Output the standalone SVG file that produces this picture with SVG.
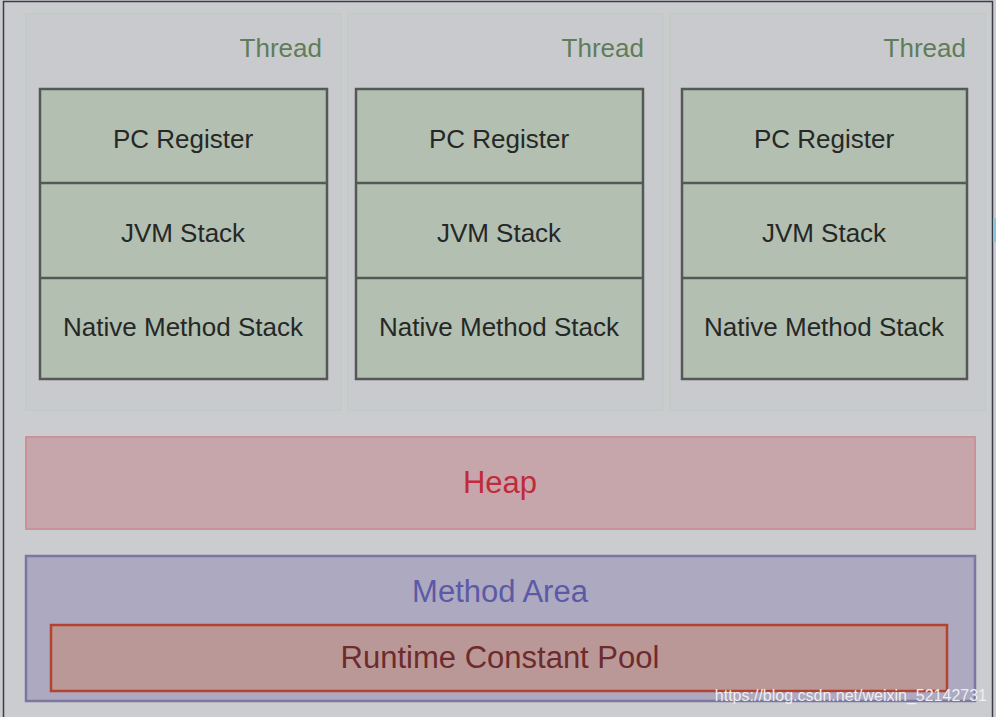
<svg xmlns="http://www.w3.org/2000/svg" width="996" height="717" viewBox="0 0 996 717">
<style>
.thread{fill:#c9cacd;stroke:#c2cbc4;stroke-width:2}
.tlabel{font-family:"Liberation Sans",Arial,sans-serif;font-size:26px;fill:#5e7d58;text-anchor:end}
.stack{fill:#b3bfb1;stroke:#545856;stroke-width:2.5}
.slabel{font-family:"Liberation Sans",Arial,sans-serif;font-size:26px;fill:#252826;text-anchor:middle}
.big{font-family:"Liberation Sans",Arial,sans-serif;font-size:31px;text-anchor:middle}
</style>
<rect x="0" y="0" width="996" height="717" fill="#cbccd0"/>
<rect x="3.5" y="1.5" width="989" height="720" fill="none" stroke="#3a3d48" stroke-width="1.5"/>
<rect x="993" y="218" width="3" height="24" fill="#8cc3dd"/>

<g id="thread1">
<rect class="thread" x="26" y="14" width="315" height="396"/>
<text class="tlabel" x="322" y="57">Thread</text>
<rect class="stack" x="40" y="89" width="287" height="290"/>
<line x1="40" y1="183" x2="327" y2="183" stroke="#545856" stroke-width="2.5"/>
<line x1="40" y1="278" x2="327" y2="278" stroke="#545856" stroke-width="2.5"/>
<text class="slabel" x="183" y="148">PC Register</text>
<text class="slabel" x="183" y="242">JVM Stack</text>
<text class="slabel" x="183" y="336">Native Method Stack</text>
</g>

<g id="thread2">
<rect class="thread" x="348" y="14" width="315" height="396"/>
<text class="tlabel" x="644" y="57">Thread</text>
<rect class="stack" x="356" y="89" width="287" height="290"/>
<line x1="356" y1="183" x2="643" y2="183" stroke="#545856" stroke-width="2.5"/>
<line x1="356" y1="278" x2="643" y2="278" stroke="#545856" stroke-width="2.5"/>
<text class="slabel" x="499" y="148">PC Register</text>
<text class="slabel" x="499" y="242">JVM Stack</text>
<text class="slabel" x="499" y="336">Native Method Stack</text>
</g>

<g id="thread3">
<rect class="thread" x="670" y="14" width="315" height="396"/>
<text class="tlabel" x="966" y="57">Thread</text>
<rect class="stack" x="682" y="89" width="285" height="290"/>
<line x1="682" y1="183" x2="967" y2="183" stroke="#545856" stroke-width="2.5"/>
<line x1="682" y1="278" x2="967" y2="278" stroke="#545856" stroke-width="2.5"/>
<text class="slabel" x="824" y="148">PC Register</text>
<text class="slabel" x="824" y="242">JVM Stack</text>
<text class="slabel" x="824" y="336">Native Method Stack</text>
</g>

<g id="heap">
<rect x="26" y="437" width="949" height="92" fill="#c6a6ab" stroke="#c99399" stroke-width="2"/>
<text class="big" x="500" y="493" fill="#c12a3b">Heap</text>
</g>

<g id="method-area">
<rect x="26" y="556" width="949" height="145" fill="#aca9c0" stroke="#7b77a0" stroke-width="2.5"/>
<text class="big" x="500" y="602" font-size="32" fill="#5c5aa6">Method Area</text>
<g id="runtime-constant-pool">
<rect x="51" y="625" width="896" height="66" fill="#bb9898" stroke="#b3432f" stroke-width="2.5"/>
<text class="big" x="500" y="668" fill="#6e2b2b">Runtime Constant Pool</text>
</g>
</g>

<g id="connectors"></g>

<text x="987" y="701" font-family="Liberation Sans,Arial,sans-serif" font-size="16" fill="#eeeef2" text-anchor="end">https://blog.csdn.net/weixin_52142731</text>
</svg>
